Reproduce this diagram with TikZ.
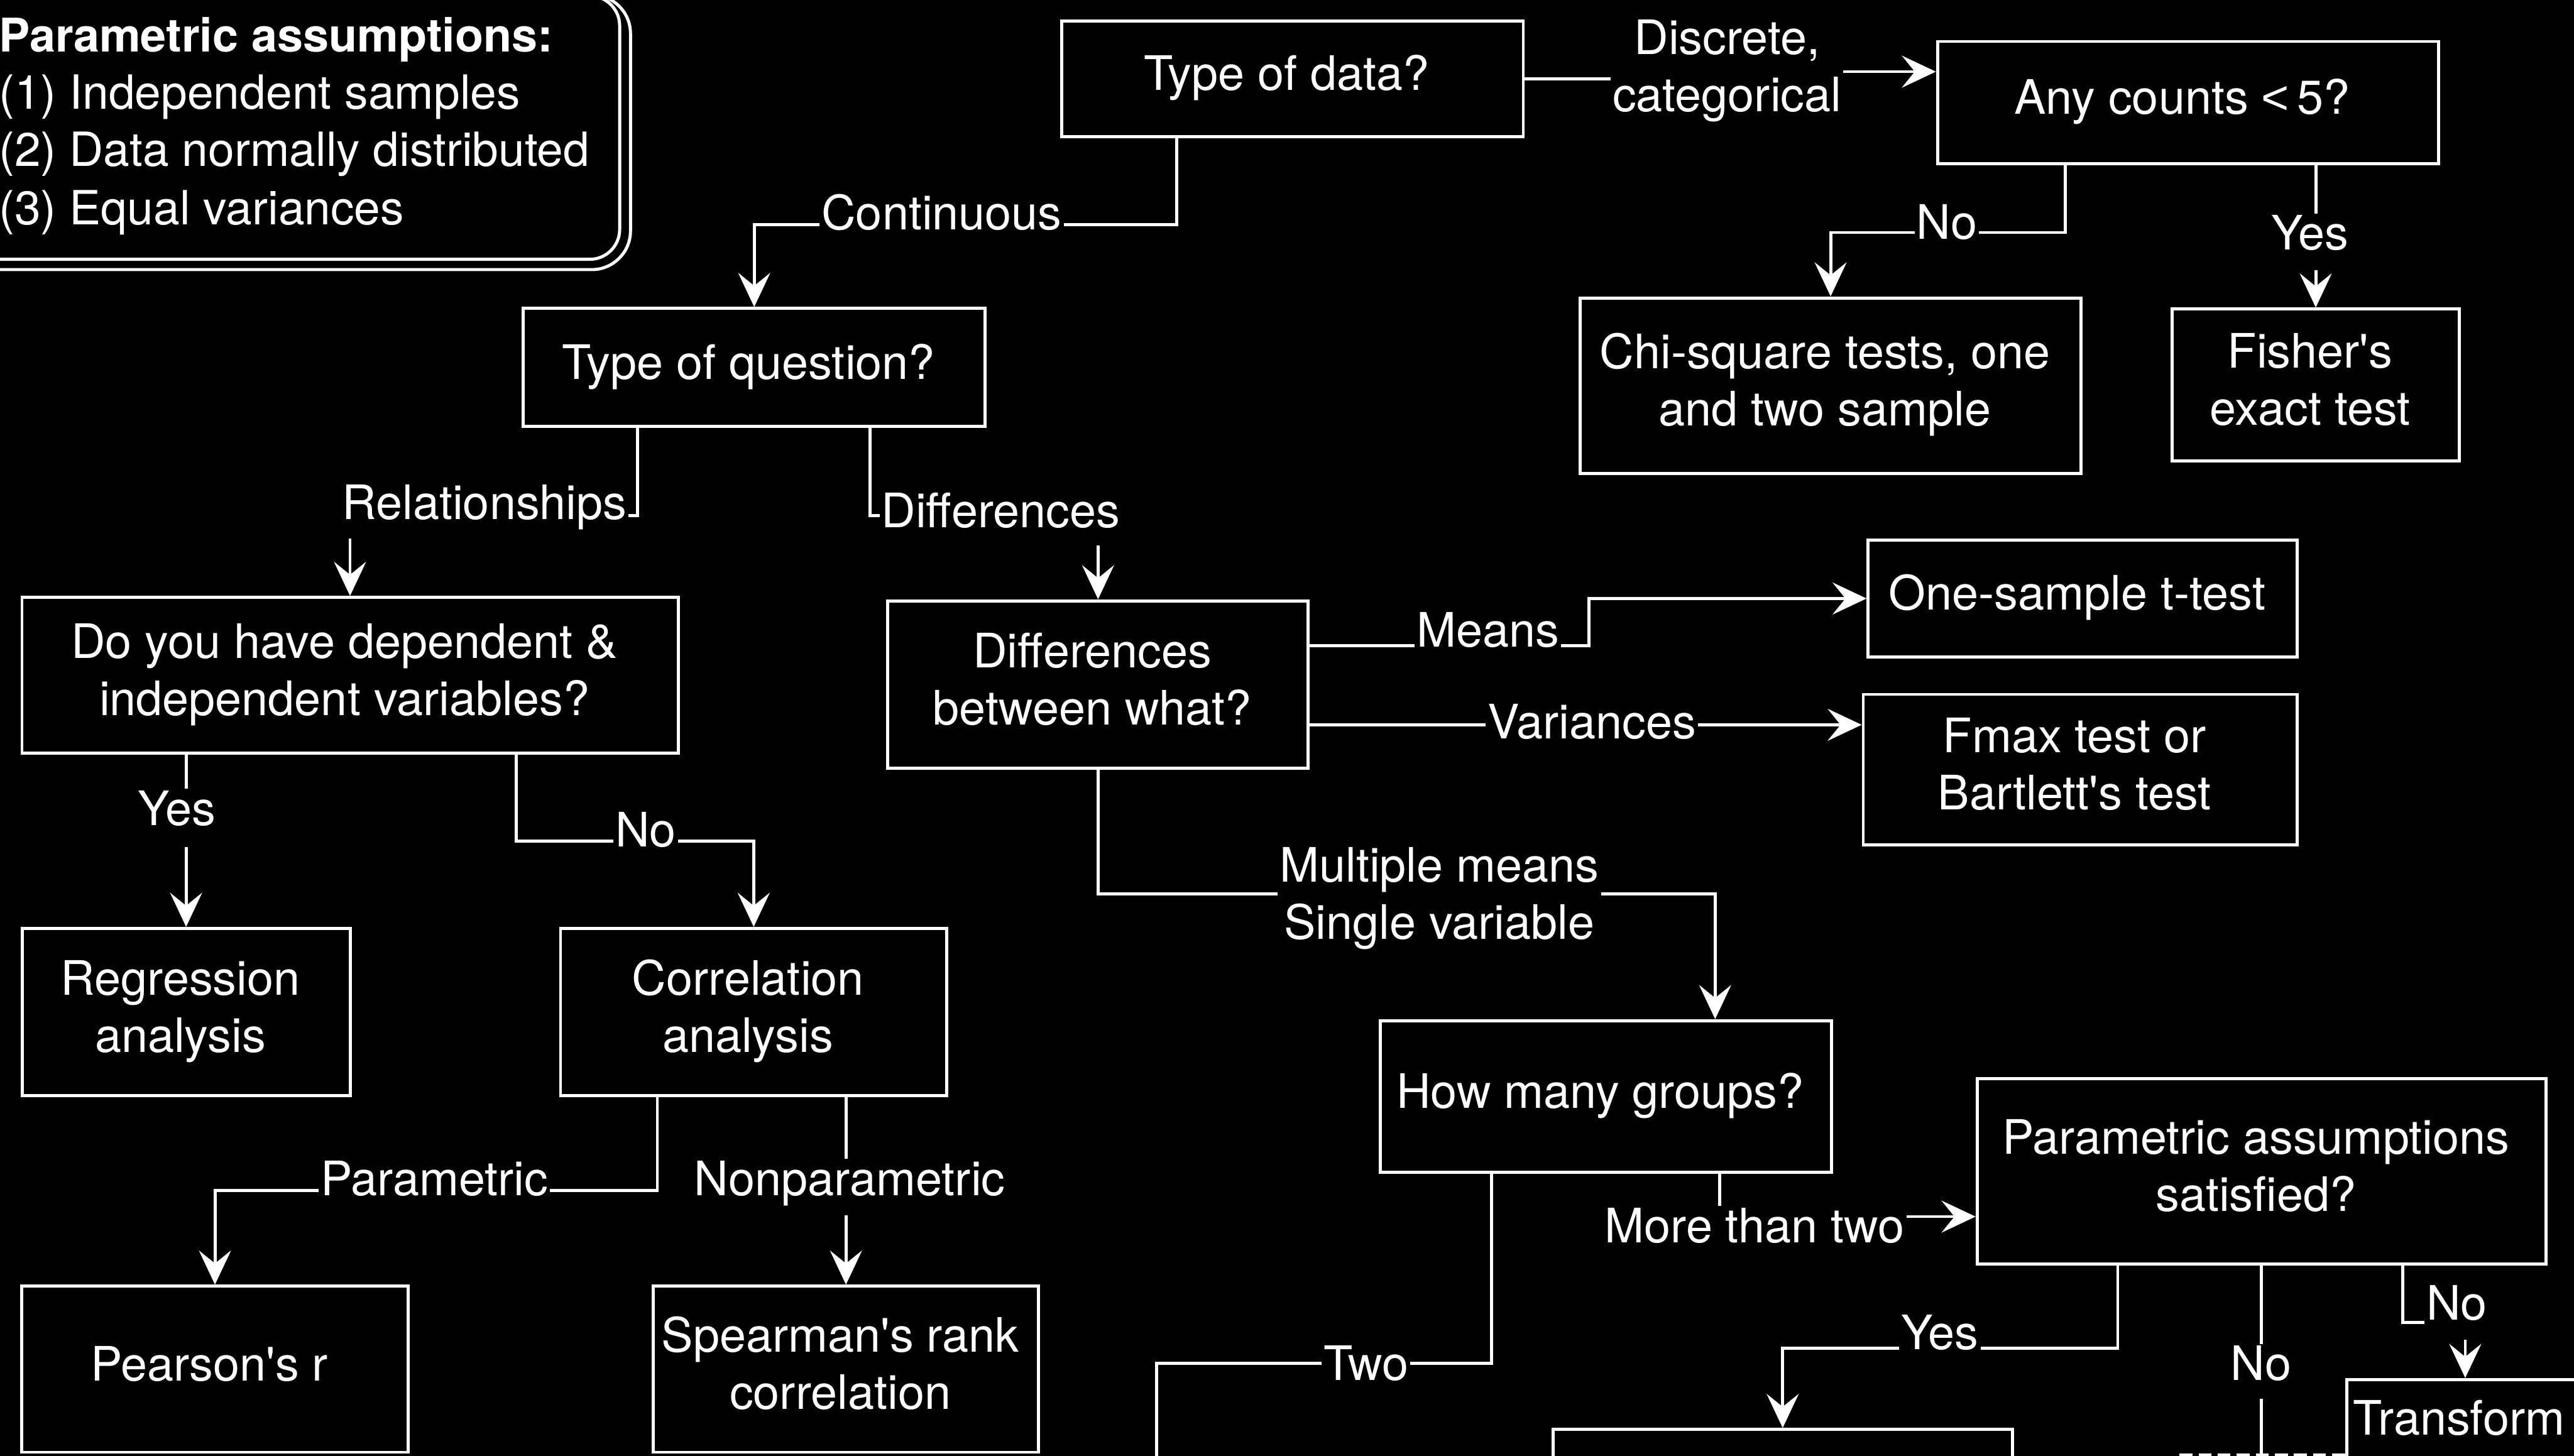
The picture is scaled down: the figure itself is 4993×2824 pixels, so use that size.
\documentclass[tikz,border=0pt]{standalone}
\usepackage{fontspec}
\setmainfont{TeX Gyre Heros}[Ligatures=TeXOff]
\newfontfamily\symfont{Liberation Sans}
\usetikzlibrary{arrows.meta}

% centred lines of a box, set a little left of the box centre
\newcommand\boxlines[1]{\begin{tabular}{@{}c@{}}#1\end{tabular}\hspace*{0.22cm}}

\tikzset{
  every node/.style={font=\fontsize{26.2}{31.6}\selectfont, text=white},
  box/.style={draw=white, line width=1.7pt, inner sep=0pt},
  lbl/.style={inner sep=0.03cm},
  panel/.style={anchor=base west, inner sep=0pt, font=\fontsize{26}{31.6}\selectfont},
  conn/.style={draw=white, line width=1.7pt},
  arr/.style={-{Stealth[length=0.66cm,width=0.62cm,inset=0.25cm]}},
}

\begin{document}
\begin{tikzpicture}[x=0.01cm, y=-0.01cm]
\useasboundingbox (0,0) rectangle (4993,2824);
\fill[black] (0,0) rectangle (4993,2824);
\clip (0,0) rectangle (4993,2824);

% assumptions panel with double rounded frame
\draw[conn, rounded corners=0.75cm] (-200,-10) rectangle (1223,523);
\draw[conn, rounded corners=0.58cm] (-200,-8) rectangle (1202,503);
\node[panel, font=\fontsize{25.6}{31.6}\selectfont\bfseries] (asm0) at (-3,100) {Parametric assumptions:};
\node[panel] (asm1) at (-3,211) {(1) Independent samples};
\node[panel] (asm2) at (-3,323) {(2) Data normally distributed};
\node[panel] (asm3) at (-3,436) {(3) Equal variances};

% decision boxes
\node[box, minimum width=8.95cm, minimum height=2.24cm] (tod) at (2507,153) {\boxlines{Type of data?}};
\node[box, minimum width=9.71cm, minimum height=2.37cm] (anyc) at (4244,199) {\boxlines{Any counts {\symfont<}\,5?}};
\node[box, minimum width=9.71cm, minimum height=3.40cm] (chi) at (3551,748) {\boxlines{Chi-square tests, one\\and two sample}};
\node[box, minimum width=5.56cm, minimum height=2.95cm] (fish) at (4492,747) {\boxlines{Fisher's\\exact test}};
\node[box, minimum width=8.95cm, minimum height=2.29cm] (toq) at (1463,713) {\boxlines{Type of question?}};
\node[box, minimum width=12.72cm, minimum height=3.02cm] (dyh) at (679,1310) {\boxlines{Do you have dependent \&\\independent variables?}};
\node[box, minimum width=8.15cm, minimum height=3.25cm] (dbw) at (2130,1328) {\boxlines{Differences\\between what?}};
\node[box, minimum width=8.32cm, minimum height=2.27cm] (ost) at (4040,1161) {\boxlines{One-sample t-test}};
\node[box, minimum width=8.41cm, minimum height=2.92cm] (fmax) at (4035,1493) {\boxlines{Fmax test or\\Bartlett's test}};
\node[box, minimum width=6.36cm, minimum height=3.24cm] (reg) at (361,1963) {\boxlines{Regression\\analysis}};
\node[box, minimum width=7.49cm, minimum height=3.24cm] (cor) at (1462,1963) {\boxlines{Correlation\\analysis}};
\node[box, minimum width=8.75cm, minimum height=2.94cm] (hmg) at (3115,2127) {\boxlines{How many groups?}};
\node[box, minimum width=11.03cm, minimum height=3.60cm] (pas) at (4387,2272) {\boxlines{Parametric assumptions\\satisfied?}};
\node[box, minimum width=7.49cm, minimum height=3.22cm] (pear) at (417,2656) {\boxlines{Pearson's r}};
\node[box, minimum width=7.47cm, minimum height=3.22cm] (spear) at (1641,2656) {\boxlines{Spearman's rank\\correlation}};
\node[box, anchor=north, minimum width=8.90cm, minimum height=3.40cm] (yesbox) at (3458,2770) {};
\node[box, anchor=north, minimum width=4.60cm, minimum height=3.40cm] (trans) at (4782,2673) {};
\node[anchor=base, inner sep=0pt] (transtxt) at (4770,2783) {Transform};

% branch labels
\node[lbl, align=center] (ldisc) at (3350,137) {Discrete,\\categorical};
\node[lbl, anchor=base west] (lno0) at (3714,464) {No};
\node[lbl, anchor=base west] (lyes0) at (4402,485) {Yes};
\node[lbl, anchor=base west] (lcont) at (1590,445) {Continuous};
\node[lbl, anchor=base west] (lrel) at (660,1007) {Relationships};
\node[lbl, anchor=base west] (ldiff) at (1706,1023) {Differences};
\node[lbl, anchor=base west] (lmeans) at (2744,1255) {Means};
\node[lbl, anchor=base west] (lvar) at (2882,1433) {Variances};
\node[lbl, align=center] (lmult) at (2792,1743) {Multiple means\\Single variable};
\node[lbl, anchor=base west] (lyes1) at (264,1601) {Yes};
\node[lbl, anchor=base west] (lno1) at (1190,1643) {No};
\node[lbl, anchor=base west] (lpar) at (618,2319) {Parametric};
\node[lbl, anchor=base west] (lnonp) at (1343,2319) {Nonparametric};
\node[lbl, anchor=base west] (lmore) at (3109,2410) {More than two};
\node[lbl, anchor=base west] (ltwo) at (2564,2678) {Two};
\node[lbl, anchor=base west] (lyes2) at (3684,2618) {Yes};
\node[lbl, anchor=base west] (lno2) at (4323,2678) {No};
\node[lbl, anchor=base west] (lno3) at (4703,2560) {No};

% bend points and free ends
\coordinate (kdisc) at (3600,139);
\coordinate (kno0) at (4006,451);
\coordinate (ayes0) at (4492,524);
\coordinate (kcont) at (2283,436);
\coordinate (krel) at (1237,1000);
\coordinate (arel) at (679,1045);
\coordinate (kdiff) at (1688,1000);
\coordinate (adiff) at (2130,1058);
\coordinate (kmeans) at (3082,1252);
\coordinate (kvar) at (2538,1406);
\coordinate (kmult) at (3327,1734);
\coordinate (ayes1) at (361,1643);
\coordinate (kno1) at (1001,1632);
\coordinate (kpar) at (1275,2309);
\coordinate (anonp) at (1641,2357);
\coordinate (kmore) at (3336,2333);
\coordinate (amore) at (3681,2360);
\coordinate (ktwo) at (2893,2645);
\coordinate (ktwob) at (2244,2645);
\coordinate (ktwoend) at (2244,2950);
\coordinate (kyes2) at (4108,2615);
\coordinate (kno2) at (4387,2713);
\coordinate (kno2end) at (4387,2950);
\coordinate (kno3) at (4661,2565);
\coordinate (ano3) at (4782,2599);
\coordinate (kdash) at (4227,2823);

% connectors
\draw[conn] (tod.east) -- (ldisc.west |- tod.east);
\draw[conn, arr] (ldisc.east |- kdisc) -- (anyc.west |- kdisc);

\draw[conn] (anyc.south -| kno0) -- (kno0) -- (lno0.east |- kno0);
\draw[conn, arr] (lno0.west |- kno0) -- (chi.north |- kno0) -- (chi.north);

\draw[conn] (anyc.south -| fish.north) -- (lyes0.north -| fish.north);
\draw[conn, arr] (ayes0) -- (fish.north);

\draw[conn] (tod.south -| kcont) -- (kcont) -- (lcont.east |- kcont);
\draw[conn, arr] (lcont.west |- kcont) -- (toq.north |- kcont) -- (toq.north);

\draw[conn] (toq.south -| krel) -- (krel) -- (lrel.east |- krel);
\draw[conn, arr] (arel) -- (dyh.north);

\draw[conn] (toq.south -| kdiff) -- (kdiff) -- (ldiff.west |- kdiff);
\draw[conn, arr] (adiff) -- (dbw.north);

\draw[conn] (dbw.east |- kmeans) -- (lmeans.west |- kmeans);
\draw[conn, arr] (lmeans.east |- kmeans) -- (kmeans) -- (kmeans |- ost.west) -- (ost.west);

\draw[conn] (dbw.east |- kvar) -- (lvar.west |- kvar);
\draw[conn, arr] (lvar.east |- kvar) -- (fmax.west |- kvar);

\draw[conn] (dbw.south) -- (dbw.south |- kmult) -- (lmult.west |- kmult);
\draw[conn, arr] (lmult.east |- kmult) -- (kmult) -- (kmult |- hmg.north);

\draw[conn] (dyh.south -| reg.north) -- (lyes1.north -| reg.north);
\draw[conn, arr] (ayes1) -- (reg.north);

\draw[conn] (dyh.south -| kno1) -- (kno1) -- (lno1.west |- kno1);
\draw[conn, arr] (lno1.east |- kno1) -- (cor.north |- kno1) -- (cor.north);

\draw[conn] (cor.south -| kpar) -- (kpar) -- (lpar.east |- kpar);
\draw[conn, arr] (lpar.west |- kpar) -- (pear.north |- kpar) -- (pear.north);

\draw[conn] (cor.south -| spear.north) -- (lnonp.north -| spear.north);
\draw[conn, arr] (anonp) -- (spear.north);

\draw[conn] (hmg.south -| kmore) -- (lmore.north -| kmore);
\draw[conn, arr] (lmore.east |- amore) -- (pas.west |- amore);

\draw[conn] (hmg.south -| ktwo) -- (ktwo) -- (ltwo.east |- ktwo);
\draw[conn] (ltwo.west |- ktwo) -- (ktwob) -- (ktwoend);

\draw[conn] (pas.south -| kyes2) -- (kyes2) -- (lyes2.east |- kyes2);
\draw[conn, arr] (lyes2.west |- kyes2) -- (yesbox.north |- kyes2) -- (yesbox.north);

\draw[conn] (pas.south -| kno2) -- (lno2.north -| kno2);
\draw[conn] (kno2) -- (kno2end);

\draw[conn] (pas.south -| kno3) -- (kno3) -- (lno3.west |- kno3);
\draw[conn, arr] (ano3) -- (trans.north);

\draw[conn, dash pattern=on 0.25cm off 0.12cm] (trans.west |- kdash) -- (kdash);
\end{tikzpicture}
\end{document}
